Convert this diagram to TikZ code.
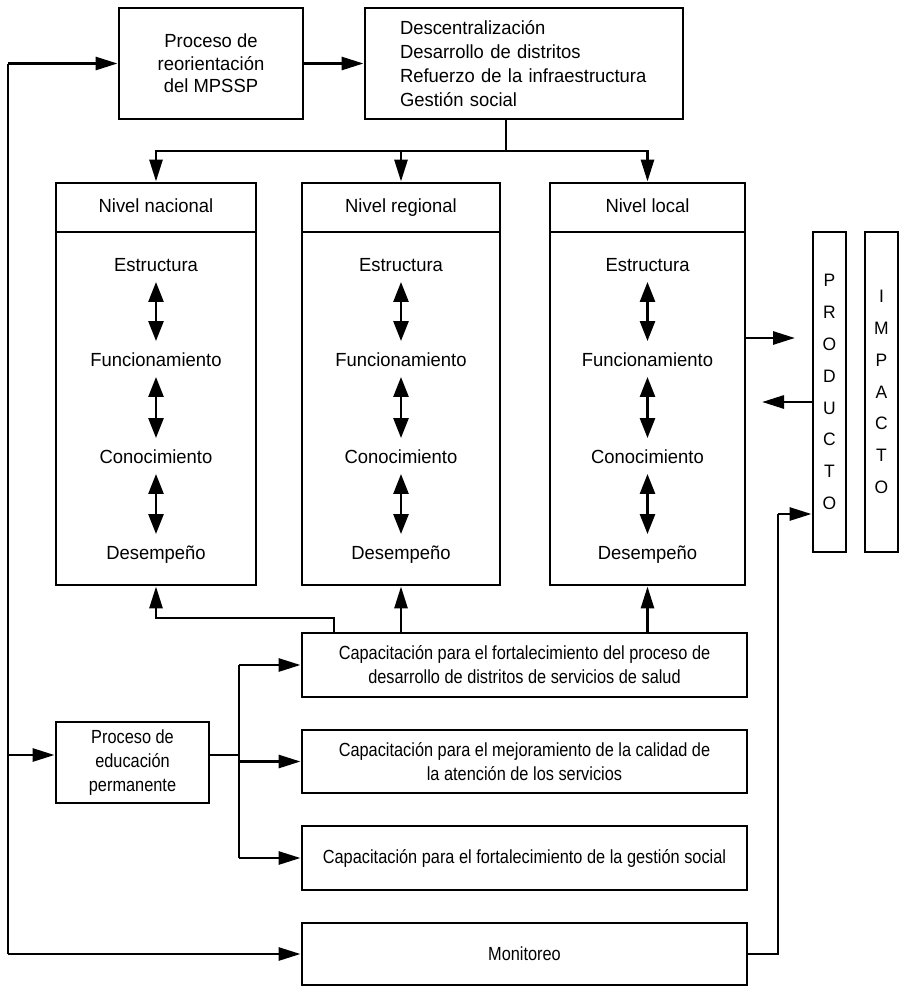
\documentclass[tikz,border=0pt]{standalone}
\usepackage{fontspec}
\setmainfont{Liberation Sans}[FakeStretch=0.97]
\newfontfamily\narrowfont{Liberation Sans}[FakeStretch=0.86]
\usetikzlibrary{arrows.meta}

\begin{document}
\begin{tikzpicture}[x=1pt,y=-1pt,
  font=\fontsize{19}{22.5}\selectfont,
  box/.style={draw, line width=2.9pt, inner sep=0pt, align=center},
  narrow/.style={font=\narrowfont\fontsize{19}{24}\selectfont},
  lbl/.style={inner sep=1pt, text height=13.5pt, text depth=4pt},
  conn/.style={line width=2.8pt},
  arr/.style={line width=2.8pt, -{Triangle[length=22pt,width=13pt]}},
  dbl/.style={line width=2.6pt, {Triangle[length=20pt,width=15pt]}-{Triangle[length=20pt,width=15pt]},
              shorten <=5pt, shorten >=11pt},
]
\useasboundingbox (0,0) rectangle (901,986);

% top row
\node[box, minimum width=184pt, minimum height=111pt] (reo) at (211,63.5)
  {Proceso de\\reorientación\\del MPSSP};
\node[box, minimum width=318pt, minimum height=111pt, inner xsep=35pt,
      text width=248pt, align=left, font=\fontsize{19}{24}\selectfont] (desc) at (524,63.5)
  {Descentralización\\Desarrollo de distritos\\Refuerzo de la infraestructura\\Gestión social};

% the three levels: header and body
\foreach \n/\x/\w/\t in {nac/156/200/nacional, reg/401/198/regional, loc/647.5/195/local}{
  \node[box, minimum width=\w pt, minimum height=49pt, text height=13.5pt, text depth=3pt]
    (\n-H) at (\x,207.5) {Nivel \t};
  \node[box, minimum width=\w pt, minimum height=353pt] (\n-B) at (\x,408.5) {};
  \node[lbl] (\n-E) at (\x,267) {Estructura};
  \node[lbl] (\n-F) at (\x,362) {Funcionamiento};
  \node[lbl] (\n-C) at (\x,459) {Conocimiento};
  \node[lbl] (\n-D) at (\x,555) {Desempeño};
  \draw[dbl] (\n-E.south) -- (\n-F.north);
  \draw[dbl] (\n-F.south) -- (\n-C.north);
  \draw[dbl] (\n-C.south) -- (\n-D.north);
}

% product and impact columns
\node[box, minimum width=33pt, minimum height=320pt, font=\fontsize{18}{31.9}\selectfont]
  (prod) at (829.5,392) {P\\R\\O\\D\\U\\C\\T\\O};
\node[box, minimum width=33pt, minimum height=320pt, font=\fontsize{18}{31.8}\selectfont]
  (imp) at (881.5,392) {I\\M\\P\\A\\C\\T\\O};

% training boxes
\node[box, narrow, minimum width=445pt, minimum height=64pt] (cap1) at (524.5,665)
  {Capacitación para el fortalecimiento del proceso de\\desarrollo de distritos de servicios de salud};
\node[box, narrow, minimum width=445pt, minimum height=63pt] (cap2) at (524.5,761.5)
  {Capacitación para el mejoramiento de la calidad de\\la atención de los servicios};
\node[box, narrow, minimum width=445pt, minimum height=64pt] (cap3) at (524.5,858)
  {Capacitación para el fortalecimiento de la gestión social};
\node[box, narrow, minimum width=445pt, minimum height=62pt] (mon) at (524.5,954)
  {Monitoreo};
\node[box, narrow, minimum width=153pt, minimum height=81pt] (edu) at (132.5,762.5)
  {Proceso de\\educación\\permanente};

% feedback loop on the left
\coordinate (lt) at (8,63.5);
\coordinate (le) at (8,755);
\coordinate (lb) at (8,954);
\draw[conn] (lt) -- (lb);
\draw[arr] (lt) -- (reo.west);
\draw[arr] (le) -- (le -| edu.west);
\draw[arr] (lb) -- (mon.west);

% top flow
\draw[arr] (reo.east) -- (desc.west);
\coordinate (split) at (506,151);
\draw[conn] (desc.south -| split) -- (split);
\draw[arr] (split) -| (nac-H.north);
\draw[arr] (split) -| (reg-H.north);
\draw[arr] (split) -| (loc-H.north);

% exchange with the product column
\coordinate (po) at (795,338);
\coordinate (pi) at (762,402);
\draw[arr] (loc-B.east |- po) -- (po);
\draw[arr] (prod.west |- pi) -- (pi);
\coordinate (mr) at (778,514);
\draw[conn] (mon.east) -| (mr);
\draw[arr] (mr) -- (mr -| prod.west);

% training feeds the levels
\coordinate (cn) at (334,618);
\draw[arr] (cn |- cap1.north) -- (cn) -| (nac-B.south);
\draw[arr] (reg-B.south |- cap1.north) -- (reg-B.south);
\draw[arr] (loc-B.south |- cap1.north) -- (loc-B.south);

% permanent education branches
\coordinate (eb) at (239,755);
\draw[conn] (edu.east |- eb) -- (eb);
\draw[conn] (eb |- cap1.west) -- (eb |- cap3.west);
\draw[arr] (eb |- cap1.west) -- (cap1.west);
\draw[arr] (eb |- cap2.west) -- (cap2.west);
\draw[arr] (eb |- cap3.west) -- (cap3.west);
\end{tikzpicture}
\end{document}
